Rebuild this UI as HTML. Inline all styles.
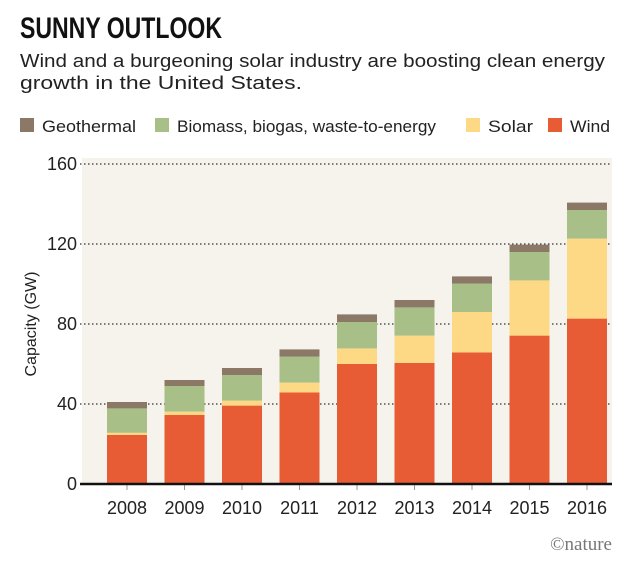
<!DOCTYPE html>
<html><head><meta charset="utf-8"><style>
body{margin:0;background:#fff;width:630px;height:565px;overflow:hidden;font-family:"Liberation Sans",sans-serif}
</style></head><body>
<svg width="630" height="565" xmlns="http://www.w3.org/2000/svg">
<text x="20" y="38" font-size="30" font-weight="bold" fill="#111" textLength="202" lengthAdjust="spacingAndGlyphs">SUNNY OUTLOOK</text>
<text x="20" y="67" font-size="18" fill="#222" textLength="585" lengthAdjust="spacingAndGlyphs">Wind and a burgeoning solar industry are boosting clean energy</text>
<text x="20" y="89" font-size="18" fill="#222" textLength="282" lengthAdjust="spacingAndGlyphs">growth in the United States.</text>
<g id="legend"></g>
<rect x="82" y="158" width="530" height="326" fill="#f5f3ec"/>
<g id="grid"></g><g id="bars"></g><g id="axes"></g>
<text transform="translate(36,324) rotate(-90)" text-anchor="middle" font-size="16" fill="#222">Capacity (GW)</text>
<text x="612" y="550" text-anchor="end" font-size="19" fill="#777" font-family="Liberation Serif,serif">©nature</text>
</svg>
<script>
const years=["2008","2009","2010","2011","2012","2013","2014","2015","2016"];
const wind=[24.5,34.5,39.2,45.8,60,60.5,65.8,74.2,82.7];
const solar=[1.1,1.7,2.5,4.9,7.8,13.7,20.2,27.6,40];
const biomass=[12.2,12.8,12.8,13,13.2,14.1,14.2,14.2,14.3];
const geothermal=[3.2,3,3.5,3.6,3.8,3.7,3.6,3.7,3.7];
const yTicks=[0,40,80,120,160];
const NS="http://www.w3.org/2000/svg";
function y(v){return 484-v*2;}
function x(i){return 127+i*57.5;}
function mk(tag,attrs,parent){const e=document.createElementNS(NS,tag);for(const k in attrs)e.setAttribute(k,attrs[k]);parent.appendChild(e);return e;}
const grid=document.getElementById('grid'),bars=document.getElementById('bars'),axes=document.getElementById('axes'),legend=document.getElementById('legend');
yTicks.forEach(t=>{
 if(t>0){const l=mk('line',{x1:80,x2:612,y1:y(t),y2:y(t),stroke:'#333','stroke-width':1.3,'stroke-dasharray':'1.5,2.5'},grid);
 
 }
 const tx=mk('text',{x:77,y:y(t)+6,'text-anchor':'end','font-size':18,fill:'#222'},axes);tx.textContent=t;
 
 
});
const series=[["wind",wind,"#e85c35"],["solar",solar,"#fdd985"],["biomass",biomass,"#a8bf88"],["geothermal",geothermal,"#8c7867"]];
years.forEach((yr,i)=>{
 let base=0;
 series.forEach(([n,arr,c])=>{
  const r=mk('rect',{x:x(i)-20,width:40,y:y(base+arr[i]),height:arr[i]*2,fill:c},bars);
  
  
  base+=arr[i];
 });
 const tk=mk('line',{x1:x(i),x2:x(i),y1:484,y2:490,stroke:'#999','stroke-width':1},axes);
 
 
 const tx=mk('text',{x:x(i),y:514,'text-anchor':'middle','font-size':18,fill:'#222'},axes);tx.textContent=yr;
 
 
});
const ax=mk('line',{x1:80,x2:612,y1:484,y2:484,stroke:'#111','stroke-width':2.5},axes);


const leg=[["Geothermal","#8c7867",20,94],["Biomass, biogas, waste-to-energy","#a8bf88",155,259],["Solar","#fdd985",466,45],["Wind","#e85c35",548,40]];
leg.forEach(([lab,c,lx,w])=>{
 const g=mk('g',{},legend);
 
 
 mk('rect',{x:lx,y:118,width:14,height:14,fill:c},g);
 const t=mk('text',{x:lx+22,y:132,'font-size':17,fill:'#222',textLength:w,lengthAdjust:'spacingAndGlyphs'},g);t.textContent=lab;
});
</script>
</body></html>
